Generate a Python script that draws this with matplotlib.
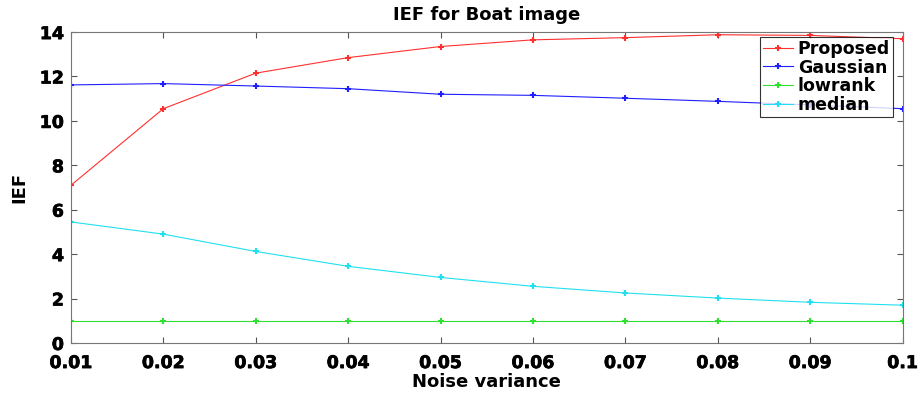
import matplotlib
matplotlib.use("Agg")
import matplotlib.pyplot as plt
import matplotlib.patheffects as pe

noise = [0.01, 0.02, 0.03, 0.04, 0.05, 0.06, 0.07, 0.08, 0.09, 0.1]
proposed = [7.1, 10.55, 12.15, 12.85, 13.35, 13.65, 13.75, 13.88, 13.85, 13.7]
gaussian = [11.62, 11.68, 11.57, 11.45, 11.2, 11.15, 11.02, 10.88, 10.72, 10.55]
lowrank = [1.0, 1.0, 1.0, 1.0, 1.0, 1.0, 1.0, 1.0, 1.0, 1.0]
median = [5.45, 4.9, 4.12, 3.45, 2.95, 2.55, 2.25, 2.02, 1.83, 1.7]
xtick_labels = ["0.01", "0.02", "0.03", "0.04", "0.05", "0.06", "0.07", "0.08", "0.09", "0.1"]

plt.rcParams['font.family'] = ['DejaVu Sans']
plt.rcParams['font.weight'] = 'bold'

heavy = [pe.withStroke(linewidth=0.5, foreground='black')]

fig = plt.figure(figsize=(9.21, 3.96), dpi=100)
ax = fig.add_axes([0.077, 0.134, 0.903, 0.785])

ax.plot(noise, proposed, color='#ff3030', marker='+', ms=5, mew=1.5, lw=0.8, label='Proposed')
ax.plot(noise, gaussian, color='#2020ff', marker='+', ms=5, mew=1.5, lw=0.8, label='Gaussian')
ax.plot(noise, lowrank, color='#30e030', marker='+', ms=5, mew=1.5, lw=0.8, label='lowrank')
ax.plot(noise, median, color='#20e0f0', marker='+', ms=5, mew=1.5, lw=0.8, label='median')

ax.set_xlim(0.01, 0.1)
ax.set_ylim(0, 14)
ax.set_xticks(noise)
ax.set_xticklabels(xtick_labels)
ax.set_yticks([0, 2, 4, 6, 8, 10, 12, 14])
ax.tick_params(direction='in', top=True, right=True, labelsize=12.5, length=4, color='#555555')
ax.tick_params(axis='x', pad=8)
ax.tick_params(axis='y', pad=5)
for lab in ax.get_xticklabels() + ax.get_yticklabels():
    lab.set_fontweight('bold')
    lab.set_path_effects(heavy)
for s in ax.spines.values():
    s.set_color('#777777')
    s.set_linewidth(0.8)

ax.set_title('IEF for Boat image', fontsize=13, fontweight='bold', pad=9)
ax.set_xlabel('Noise variance', fontsize=13, fontweight='bold', labelpad=1)
ax.set_ylabel('IEF', fontsize=13, fontweight='bold', labelpad=8)

leg = ax.legend(loc='upper right', bbox_to_anchor=(0.988, 0.984), borderaxespad=0,
                frameon=True, fancybox=False,
                edgecolor='black', borderpad=0.15, labelspacing=0.05, handlelength=1.7,
                handletextpad=0.3, prop={'weight': 'bold', 'size': 12.5})
leg.get_frame().set_linewidth(0.8)

fig.savefig('out.png', dpi=100)
